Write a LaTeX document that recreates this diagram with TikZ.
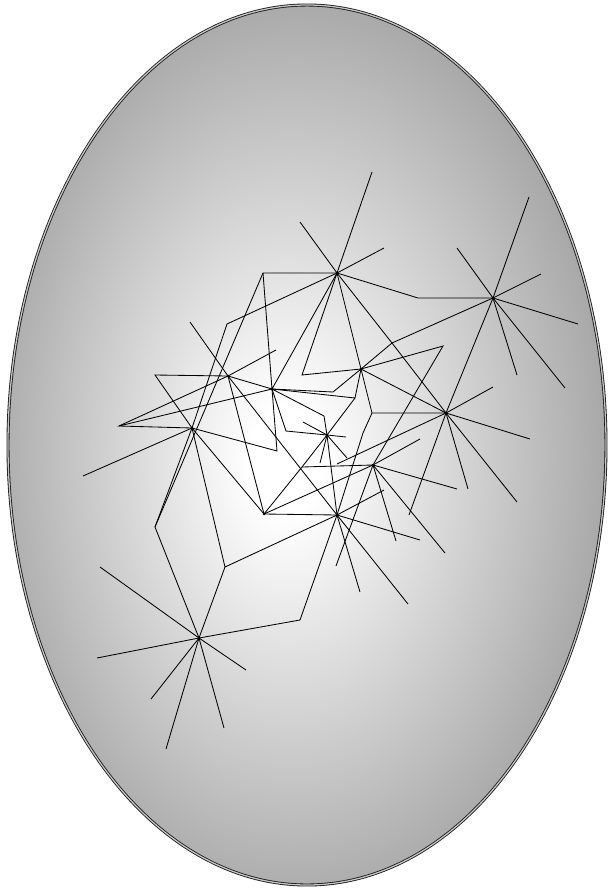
\documentclass[tikz,border=0pt]{standalone}
\usetikzlibrary{calc}

\pgfdeclareradialshading{eggshade}{\pgfpoint{-2bp}{-1bp}}{color(0bp)=(white); color(3bp)=(white); color(26bp)=(black!34); color(50bp)=(black!36)}

\begin{document}
\begin{tikzpicture}[
    x=0.025cm, y=-0.025cm,
    link/.style={line width=0.6pt, black},
    ray/.style={line width=0.6pt, black},
    hubdot/.style={fill=black}
]
\useasboundingbox (0,0) rectangle (608,889);

% 1. shell
\shade[shading=eggshade] (307,445) ellipse [x radius=299, y radius=440];
\draw[black!90, line width=0.6pt, double=gray!45, double distance=0.9pt] (307,445) ellipse [x radius=299, y radius=440];

% 2. stars
\coordinate (star1) at (337,273);
\coordinate (star2) at (493,298);
\coordinate (star3) at (228,376);
\coordinate (star4) at (192,428);
\coordinate (star5) at (272,389);
\coordinate (star6) at (361,369);
\coordinate (star7) at (446,413);
\coordinate (star8) at (327,435);
\coordinate (star9) at (373,465);
\coordinate (star10) at (264,514);
\coordinate (star11) at (337,515);
\coordinate (star12) at (199,638);

% 3. kinks
\coordinate (kink1) at (263,273);
\coordinate (kink2) at (227,324);
\coordinate (kink3) at (155,527);
\coordinate (kink4) at (418,298);
\coordinate (kink5) at (392,343);
\coordinate (kink6) at (302,375);
\coordinate (kink7) at (155,375);
\coordinate (kink8) at (119,426);
\coordinate (kink9) at (277,451);
\coordinate (kink10) at (225,567);
\coordinate (kink11) at (300,620);
\coordinate (kink12) at (333,392);
\coordinate (kink13) at (443,346);
\coordinate (kink14) at (372,413);
\coordinate (kink15) at (355,398);
\coordinate (kink16) at (363,433);
\coordinate (kink17) at (324,416);
\coordinate (kink18) at (286,431);
\coordinate (kink19) at (302,467);

% 4. links
\draw[link] (star2) -- (kink4) -- (star1) -- (kink1) -- (kink3) -- (star12);
\draw[link] (star1) -- (kink2) -- (star4) -- (kink3);
\draw[link] (kink1) -- (star5) -- (star1);
\draw[link] (star1) -- (kink6) -- (star6) -- (star1);
\draw[link] (star1) -- (kink5) -- (star7);
\draw[link] (star2) -- (kink5) -- (star6);
\draw[link] (star2) -- (star7);
\draw[link] (star6) -- (kink13) -- (star9);
\draw[link] (star6) -- (star7);
\draw[link] (star6) -- (kink14) -- (star7);
\draw[link] (kink14) -- (kink16) -- (star11);
\draw[link] (star5) -- (kink12) -- (star6);
\draw[link] (star5) -- (kink15) -- (star6);
\draw[link] (kink15) -- (star8) -- (kink19) -- (star10);
\draw[link] (star5) -- (kink17) -- (star8);
\draw[link] (star5) -- (kink18) -- (star8);
\draw[link] (star8) -- (star11);
\draw[link] (kink19) -- (star9);
\draw[link] (star10) -- (star9);
\draw[link] (star10) -- (star11);
\draw[link] (star3) -- (kink7) -- (star4);
\draw[link] (star3) -- (kink8) -- (star4);
\draw[link] (kink8) -- (star5);
\draw[link] (star3) -- (star5);
\draw[link] (star3) -- (star10);
\draw[link] (star3) -- (star11);
\draw[link] (star4) -- (kink9) -- (star5);
\draw[link] (star4) -- (star10);
\draw[link] (star4) -- (kink10) -- (star11);
\draw[link] (kink10) -- (star12);
\draw[link] (star12) -- (kink11) -- (star11);

% 5. rays
\foreach \e in {(372,172),(300,222),(384,248)} \draw[ray] (star1) -- \e;
\foreach \e in {(529,197),(457,248),(541,274),(578,324),(565,388),(517,375)} \draw[ray] (star2) -- \e;
\foreach \e in {(190,322),(276,350)} \draw[ray] (star3) -- \e;
\foreach \e in {(83,476)} \draw[ray] (star4) -- \e;
\foreach \e in {(493,387),(530,439),(517,502),(468,489),(409,515),(337,464)} \draw[ray] (star7) -- \e;
\foreach \e in {(303,422),(346,437),(320,463),(347,458)} \draw[ray] (star8) -- \e;
\foreach \e in {(420,439),(457,489),(445,553),(396,541),(336,566)} \draw[ray] (star9) -- \e;
\foreach \e in {(384,490),(420,540),(408,604),(360,592)} \draw[ray] (star11) -- \e;
\foreach \e in {(100,567),(97,658),(246,670),(224,728),(166,749),(151,699)} \draw[ray] (star12) -- \e;

% 6. hub dots
\foreach \h in {1,...,12} \fill[hubdot] (star\h) circle [radius=1.4];

\end{tikzpicture}
\end{document}
